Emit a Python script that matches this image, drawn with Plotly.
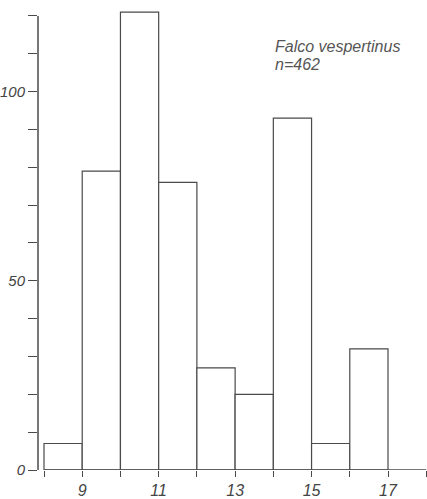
import plotly.graph_objects as go

bin_left = [8, 9, 10, 11, 12, 13, 14, 15, 16]
counts = [7, 79, 121, 76, 27, 20, 93, 7, 32]
x_ticks = [8, 9, 10, 11, 12, 13, 14, 15, 16, 17, 18]
x_labels = ["", "9", "", "11", "", "13", "", "15", "", "17", ""]
y_ticks = list(range(0, 130, 10))
y_labels = ["0", "", "", "", "", "50", "", "", "", "", "100", "", ""]
title_lines = ["Falco vespertinus", "n=462"]

ink = "#4a4a4a"
font_fam = "Liberation Sans"

fig = go.Figure()
fig.add_trace(go.Bar(
    x=[b + 0.5 for b in bin_left], y=counts, width=1,
    marker=dict(color="white", line=dict(color=ink, width=1.2)),
    cliponaxis=False,
))

# axis lines drawn over the ticked range
fig.add_shape(type="line", xref="paper", yref="y", x0=0, x1=0, y0=0, y1=120,
              line=dict(color=ink, width=1.5))
fig.add_shape(type="line", xref="x", yref="y", x0=8, x1=18, y0=0, y1=0,
              line=dict(color=ink, width=1.5))

for i, (line, ypos) in enumerate(zip(title_lines, [0.900, 0.862])):
    fig.add_annotation(xref="paper", yref="paper", x=0.604, y=ypos, xanchor="left", yanchor="middle",
                       text=line, showarrow=False, align="left",
                       font=dict(family=font_fam, size=16, color="#555", style="italic"))

fig.update_layout(
    width=427, height=499,
    margin=dict(l=38, r=0, t=0, b=27),
    paper_bgcolor="white", plot_bgcolor="white",
    showlegend=False,
    xaxis=dict(range=[7.843, 18.02], tickmode="array", tickvals=x_ticks, ticktext=x_labels,
               ticks="outside", ticklen=6, tickwidth=1.3, tickcolor=ink,
               showgrid=False, zeroline=False, showline=False,
               tickfont=dict(family=font_fam, size=16, color="#444", style="italic")),
    yaxis=dict(range=[0, 124.2], tickmode="array", tickvals=y_ticks, ticktext=y_labels,
               ticks="outside", ticklen=9, tickwidth=1.3, tickcolor=ink,
               showgrid=False, zeroline=False, showline=False,
               tickfont=dict(family=font_fam, size=15, color="#444", style="italic")),
)

fig.write_html("out.html")
